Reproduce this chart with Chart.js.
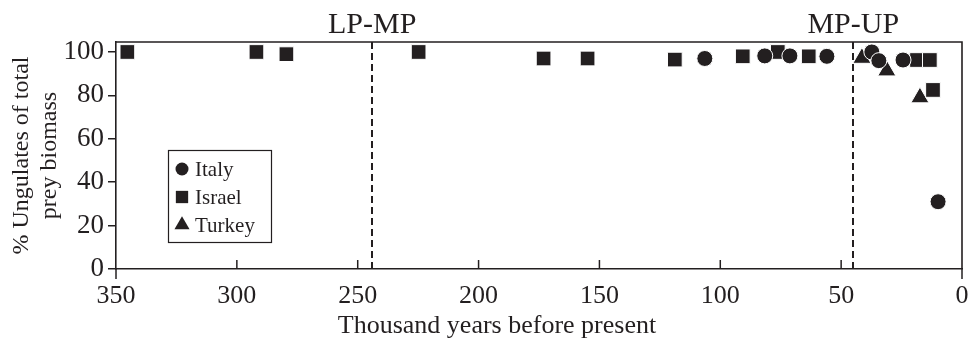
<!DOCTYPE html>
<html>
<head>
<meta charset="utf-8">
<script src="https://cdn.jsdelivr.net/npm/chart.js"></script>
<style>
  body { margin: 0; background: #fff; }
  canvas { display: block; }
</style>
</head>
<body>
<canvas id="prey" width="969" height="343"></canvas>
<script>
const INK = '#231f20';
const SERIF = "'Liberation Serif', 'Times New Roman', serif";

// ages in thousand years BP, values in % ungulates of prey biomass
const italyAge = [106.4, 81.6, 71.2, 55.9, 37.3, 34.4, 24.4, 9.9];
const italyPct = [97, 98.2, 98.2, 98, 100, 96, 96.3, 31];
const israelAge = [345.3, 291.9, 279.5, 224.8, 173.1, 154.9, 118.8, 90.7, 76.2, 63.4, 18.6, 13.3, 12];
const israelPct = [100, 100, 99, 100, 97, 97, 96.5, 98, 100, 98, 96.3, 96.3, 82.5];
const turkeyAge = [41.4, 31.1, 17.4];
const turkeyPct = [97.2, 91.4, 79];

const boundaryAge = [244, 45];
const boundaryLabel = ['LP-MP', 'MP-UP'];

const xTicks = [350, 300, 250, 200, 150, 100, 50, 0];
const yTicks = [0, 20, 40, 60, 80, 100];
const xTitle = 'Thousand years before present';
const yTitle = ['% Ungulates of total', 'prey biomass'];

const pts = (xs, ys) => xs.map((x, i) => ({ x: x, y: ys[i] }));

function series(label, style, radius, xs, ys) {
    return {
        label: label,
        data: pts(xs, ys),
        pointStyle: style,
        pointRadius: radius,
        pointBackgroundColor: INK,
        backgroundColor: INK,
        pointBorderColor: '#fff',
        pointBorderWidth: 1,
        showLine: false
    };
}

// dashed period boundaries + their labels
const boundaries = {
    id: 'boundaries',
    beforeDatasetsDraw(chart) {
        const { ctx, chartArea: a, scales: { x } } = chart;
        ctx.save();
        ctx.strokeStyle = INK;
        ctx.lineWidth = 2;
        ctx.setLineDash([7, 4]);
        boundaryAge.forEach(v => {
            const px = Math.round(x.getPixelForValue(v));
            ctx.beginPath();
            ctx.moveTo(px, a.top);
            ctx.lineTo(px, a.bottom);
            ctx.stroke();
        });
        ctx.setLineDash([]);
        ctx.fillStyle = INK;
        ctx.font = '30px ' + SERIF;
        ctx.textAlign = 'center';
        ctx.textBaseline = 'alphabetic';
        boundaryAge.forEach((v, i) => {
            ctx.fillText(boundaryLabel[i], x.getPixelForValue(v), a.top - 9);
        });
        ctx.restore();
    }
};

// box on top/right, inward x ticks, x title (sits left of centre in the original)
const frame = {
    id: 'frame',
    afterDraw(chart) {
        const { ctx, chartArea: a, scales: { x } } = chart;
        ctx.save();
        ctx.strokeStyle = INK;
        ctx.lineWidth = 1.6;
        ctx.beginPath();
        ctx.moveTo(a.left, a.top);
        ctx.lineTo(a.right, a.top);
        ctx.lineTo(a.right, a.bottom);
        ctx.stroke();
        ctx.lineWidth = 1.5;
        xTicks.forEach(v => {
            const px = x.getPixelForValue(v);
            ctx.beginPath();
            if (v === 0 || v === 350) {
                ctx.moveTo(px, a.bottom);
                ctx.lineTo(px, a.bottom + 10);
            } else {
                ctx.moveTo(px, a.bottom);
                ctx.lineTo(px, a.bottom - 9);
            }
            ctx.stroke();
        });
        ctx.fillStyle = INK;
        ctx.font = '26px ' + SERIF;
        ctx.textAlign = 'center';
        ctx.textBaseline = 'alphabetic';
        ctx.fillText(xTitle, a.left + 381, a.bottom + 64);
        ctx.restore();
    }
};

const legendSize = { circle: 6.5, rect: 8.7, triangle: 8.7 };

const legendBox = {
    id: 'legendBox',
    afterDraw(chart) {
        const { ctx, chartArea: a } = chart;
        const left = a.left + 52, top = a.top + 108, w = 103, h = 92;
        ctx.save();
        ctx.fillStyle = '#fff';
        ctx.fillRect(left, top, w, h);
        ctx.strokeStyle = INK;
        ctx.lineWidth = 1.2;
        ctx.strokeRect(left + 0.5, top + 0.5, w, h);
        ctx.font = '21px ' + SERIF;
        ctx.textBaseline = 'middle';
        ctx.textAlign = 'left';
        chart.data.datasets.forEach((ds, i) => {
            const y = top + 19 + i * 28;
            ctx.fillStyle = INK;
            Chart.helpers.drawPoint(ctx, {
                pointStyle: ds.pointStyle,
                radius: legendSize[ds.pointStyle],
                rotation: 0,
                borderWidth: 0
            }, left + 14, y);
            ctx.fillStyle = INK;
            ctx.fillText(ds.label, left + 27, y + 1);
        });
        ctx.restore();
    }
};

new Chart(document.getElementById('prey'), {
    type: 'scatter',
    data: {
        datasets: [
            series('Italy', 'circle', 8, italyAge, italyPct),
            series('Israel', 'rect', 10.4, israelAge, israelPct),
            series('Turkey', 'triangle', 10.5, turkeyAge, turkeyPct)
        ]
    },
    options: {
        responsive: false,
        devicePixelRatio: 1,
        animation: false,
        events: [],
        // big markers would otherwise push the plot area in
        layout: { autoPadding: false, padding: { top: 42, right: 7, left: 0, bottom: 0 } },
        plugins: {
            legend: { display: false },
            tooltip: { enabled: false }
        },
        scales: {
            x: {
                type: 'linear',
                reverse: true,
                min: 0,
                max: 350,
                afterBuildTicks: s => { s.ticks = xTicks.map(v => ({ value: v })); },
                afterFit: s => { s.height = 74; },
                // tick marks are drawn inward by the frame plugin; tickLength only spaces the labels
                grid: { display: false, drawTicks: true, tickLength: 12 },
                border: { display: true, color: INK, width: 1.6 },
                ticks: {
                    color: INK,
                    font: { family: SERIF, size: 26 },
                    padding: 0,
                    maxRotation: 0,
                    autoSkip: false
                },
                title: { display: false }
            },
            y: {
                type: 'linear',
                min: 0,
                max: 104.6,
                afterBuildTicks: s => { s.ticks = yTicks.map(v => ({ value: v })); },
                afterFit: s => { s.width = 116; },
                grid: { drawOnChartArea: false, drawTicks: true, tickLength: 8, color: INK, lineWidth: 1.5 },
                border: { display: true, color: INK, width: 1.6 },
                ticks: {
                    color: INK,
                    font: { family: SERIF, size: 27 },
                    padding: 4
                },
                title: {
                    display: true,
                    text: yTitle,
                    color: INK,
                    font: { family: SERIF, size: 24, lineHeight: 1.17 },
                    padding: { top: 8, bottom: 0 }
                }
            }
        }
    },
    plugins: [boundaries, frame, legendBox]
});
</script>
</body>
</html>
